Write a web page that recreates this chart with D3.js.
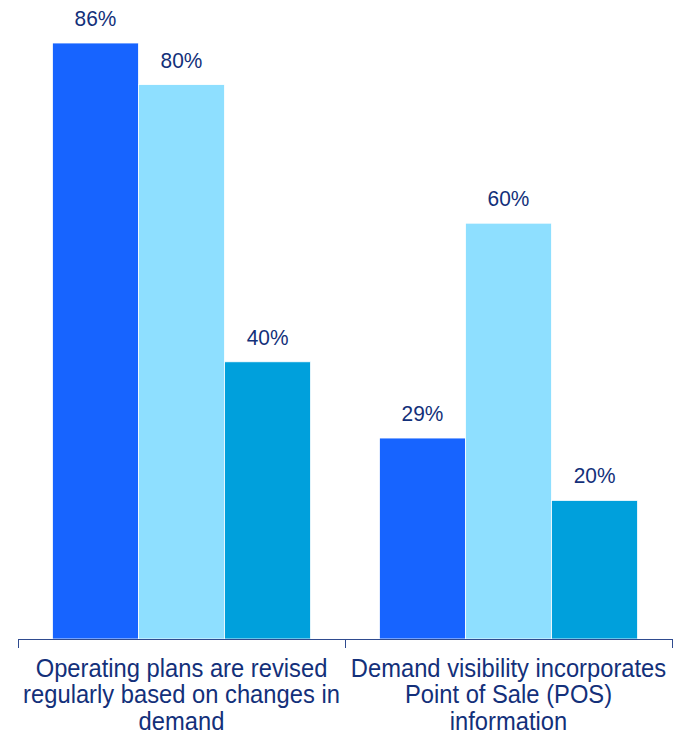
<!DOCTYPE html>
<html>
<head>
<meta charset="utf-8">
<script src="https://cdn.jsdelivr.net/npm/d3@7"></script>
<style>
  html, body { margin: 0; padding: 0; background: #ffffff; }
  svg { display: block; font-family: "Liberation Sans", Arial, sans-serif; }
</style>
</head>
<body>
<svg id="chart" width="683" height="735"></svg>
<script>
// Categories (each label split into its wrapped lines)
const categories = [
  "Operating plans are revised regularly based on changes in demand",
  "Demand visibility incorporates Point of Sale (POS) information"
];
const categoryLines = [
  ["Operating plans are revised", "regularly based on changes in", "demand"],
  ["Demand visibility incorporates", "Point of Sale (POS)", "information"]
];
// Three series per category, values in percent
const seriesKeys = ["s1", "s2", "s3"];
const seriesA = [86, 29];
const seriesB = [80, 60];
const seriesC = [40, 20];
const seriesColors = ["#1764FF", "#8EDFFF", "#00A0DC"];

const data = categories.map((c, i) => ({
  category: c,
  values: [seriesA[i], seriesB[i], seriesC[i]]
}));

const svg = d3.select("#chart");
const left = 18, right = 672, baseline = 639;

const x0 = d3.scaleBand()
  .domain(categories)
  .range([left, right])
  .paddingInner(0)
  .paddingOuter(0);

const x1 = d3.scaleBand()
  .domain(seriesKeys)
  .range([0, x0.bandwidth()])
  .paddingOuter(0.4)
  .paddingInner(0);

const y = d3.scaleLinear()
  .domain([0, 86])
  .range([baseline, 43]);

const textColor = "#13307A";
const squeeze = 0.95;

// Bars
const groups = svg.append("g")
  .selectAll("g")
  .data(data)
  .join("g")
  .attr("transform", d => `translate(${x0(d.category)},0)`);

groups.selectAll("rect")
  .data(d => d.values.map((v, k) => ({ key: seriesKeys[k], value: v, k })))
  .join("rect")
  .attr("x", d => x1(d.key))
  .attr("y", d => y(d.value))
  .attr("width", x1.bandwidth())
  .attr("height", d => baseline - y(d.value))
  .attr("fill", d => seriesColors[d.k])
  .attr("stroke", "#ffffff")
  .attr("stroke-width", 0.8);

// Value labels
groups.selectAll("text.val")
  .data(d => d.values.map((v, k) => ({ key: seriesKeys[k], value: v })))
  .join("text")
  .attr("class", "val")
  .attr("transform", d => `translate(${x1(d.key) + x1.bandwidth() / 2},${y(d.value) - 17}) scale(${squeeze},1)`)
  .attr("text-anchor", "middle")
  .attr("fill", textColor)
  .attr("font-size", 22)
  .text(d => d.value + "%");

// Category axis with ticks at band boundaries
const axisG = svg.append("g").attr("stroke", "#2F4B8F").attr("stroke-width", 1);
axisG.append("line")
  .attr("x1", left).attr("x2", right)
  .attr("y1", baseline + 0.5).attr("y2", baseline + 0.5);
const boundaries = categories.map(c => x0(c)).concat([right]);
axisG.selectAll("line.tick")
  .data(boundaries)
  .join("line")
  .attr("class", "tick")
  .attr("x1", d => Math.round(d) + 0.5).attr("x2", d => Math.round(d) + 0.5)
  .attr("y1", baseline).attr("y2", baseline + 9);

// Category labels
const labels = svg.append("g")
  .selectAll("text")
  .data(data)
  .join("text")
  .attr("text-anchor", "middle")
  .attr("fill", textColor)
  .attr("font-size", 25)
  .attr("transform", d => `translate(${x0(d.category) + x0.bandwidth() / 2},677) scale(${squeeze},1)`);

labels.selectAll("tspan")
  .data((d, i) => categoryLines[i])
  .join("tspan")
  .attr("x", 0)
  .attr("dy", (d, i) => i === 0 ? 0 : 26.5)
  .text(d => d);
</script>
</body>
</html>
